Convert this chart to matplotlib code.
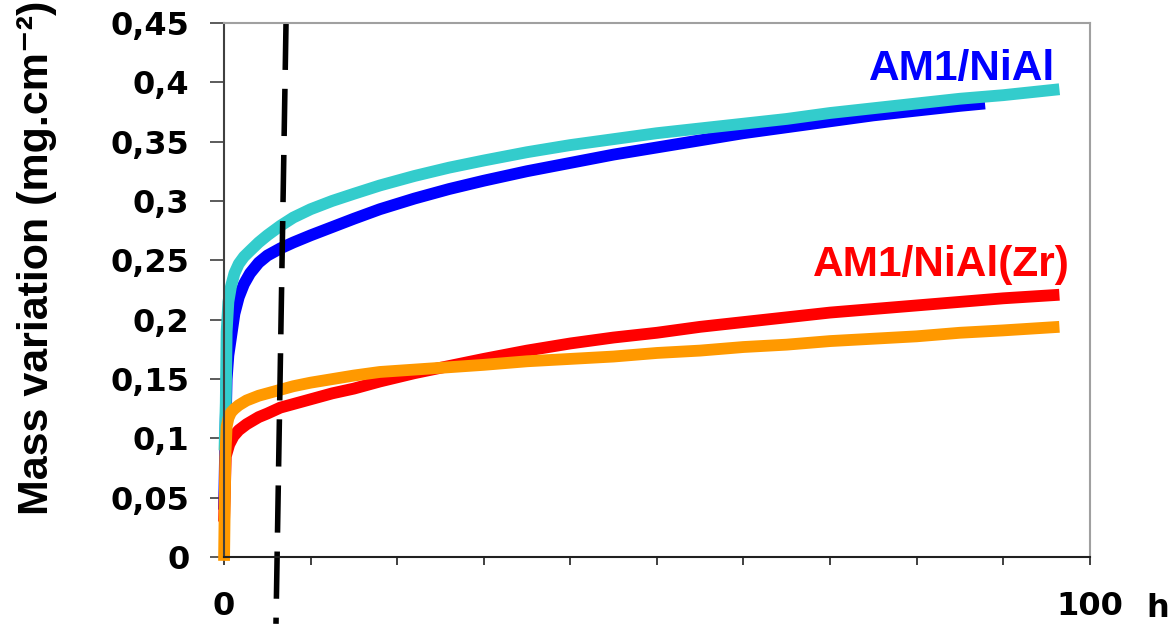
import matplotlib
matplotlib.use("Agg")
import matplotlib.pyplot as plt

# données (temps en h, variation de masse en mg.cm-2)
t_blue = [0.0, 0.15, 0.3, 0.5, 0.8, 1.2, 1.7, 2.3, 3, 4, 5, 6.5, 8, 10, 12.5, 15, 18, 22, 26, 30,
          35, 40, 45, 50, 55, 60, 65, 70, 75, 80, 85, 87.9]
m_blue = [0.04, 0.10, 0.15, 0.17, 0.185, 0.205, 0.219, 0.23, 0.239, 0.248, 0.254, 0.260, 0.265,
          0.271, 0.278, 0.285, 0.293, 0.302, 0.310, 0.317, 0.325, 0.332, 0.339, 0.345, 0.351,
          0.357, 0.362, 0.367, 0.372, 0.376, 0.380, 0.382]

t_cyan = [0.05, 0.2, 0.3, 0.5, 0.8, 1.2, 1.7, 2.3, 3, 4, 5, 6.5, 8, 10, 12.5, 15, 18, 22, 26, 30,
          35, 40, 45, 50, 55, 60, 65, 70, 75, 80, 85, 90, 96.5]
m_cyan = [0.09, 0.13, 0.19, 0.215, 0.228, 0.239, 0.247, 0.253, 0.258, 0.265, 0.271, 0.279, 0.286,
          0.293, 0.300, 0.306, 0.313, 0.321, 0.328, 0.334, 0.341, 0.347, 0.352, 0.357, 0.361,
          0.365, 0.369, 0.374, 0.378, 0.382, 0.386, 0.389, 0.394]

t_red = [0.0, 0.2, 0.6, 1.1, 1.7, 2.6, 4, 5, 6.5, 8, 10, 12.5, 15, 18, 22, 26, 30, 35, 40, 45,
         50, 55, 60, 65, 70, 75, 80, 85, 90, 96.5]
m_red = [0.03, 0.085, 0.095, 0.102, 0.107, 0.112, 0.118, 0.121, 0.126, 0.129, 0.133, 0.138,
         0.142, 0.148, 0.155, 0.161, 0.167, 0.174, 0.180, 0.185, 0.189, 0.194, 0.198, 0.202,
         0.206, 0.209, 0.212, 0.215, 0.218, 0.221]

t_orange = [0.0, 0.15, 0.3, 0.5, 0.8, 1.2, 1.7, 2.6, 4, 5, 6.5, 8, 10, 12.5, 15, 18, 22, 26, 30,
            35, 40, 45, 50, 55, 60, 65, 70, 75, 80, 85, 90, 96.5]
m_orange = [-0.003, 0.085, 0.11, 0.117, 0.122, 0.125, 0.128, 0.132, 0.136, 0.138, 0.141, 0.144,
            0.147, 0.150, 0.153, 0.156, 0.158, 0.160, 0.162, 0.165, 0.167, 0.169, 0.172, 0.174,
            0.177, 0.179, 0.182, 0.184, 0.186, 0.189, 0.191, 0.194]

# ligne pointillée (limite)
t_dash = [7.16, 6.0]
m_dash = [0.45, -0.056]

yticks = [0, 0.05, 0.1, 0.15, 0.2, 0.25, 0.3, 0.35, 0.4, 0.45]
ylabels = ['0', '0,05', '0,1', '0,15', '0,2', '0,25', '0,3', '0,35', '0,4', '0,45']
xticks = list(range(0, 101, 10))
xlabels = ['0'] + [''] * 9 + ['100']

plt.rcParams['font.family'] = ['Liberation Sans', 'DejaVu Sans']

fig = plt.figure(figsize=(11.73, 6.24), dpi=100)
ax = fig.add_axes([0.191, 0.1069, 0.738, 0.8567])

lw = 8.5
kw = dict(lw=lw, solid_capstyle='butt', solid_joinstyle='round', clip_on=False)
ax.plot(t_blue, m_blue, color='#0000FF', **kw)
ax.plot(t_red, m_red, color='#FF0000', **kw)
ax.plot(t_cyan, m_cyan, color='#33CCCC', **kw)
ax.plot(t_orange, m_orange, color='#FF9900', **kw)

ax.plot(t_dash, m_dash, color='black', lw=4, linestyle=(0, (8.5, 3.4)), clip_on=False)

tick_font = dict(family='DejaVu Sans', size=23, weight='bold')
ax.set_xlim(0, 100)
ax.set_ylim(0, 0.45)
ax.set_yticks(yticks)
ax.set_yticklabels(ylabels, fontdict=tick_font)
ax.set_xticks(xticks)
ax.set_xticklabels(xlabels, fontdict=tick_font)
ax.tick_params(axis='y', direction='out', length=10, width=1.2, pad=15, color='#404040')
ax.tick_params(axis='x', direction='out', length=6, width=1.2, pad=18, color='#202020')

ax.spines['left'].set_color('#404040')
ax.spines['bottom'].set_color('#202020')
ax.spines['top'].set_color('#a0a0a0')
ax.spines['right'].set_color('#a0a0a0')
for s in ax.spines.values():
    s.set_linewidth(1.5)

ax.set_ylabel('Mass variation (mg.cm\u207b\u00b2)', fontsize=31, fontweight='bold',
              family=['Liberation Sans', 'DejaVu Sans'])
ax.yaxis.set_label_coords(-0.193, 0.561)

# unité de l'axe x
ax.text(106.6, -0.0505, 'h', fontdict=tick_font, ha='left', va='baseline', clip_on=False)

ann = dict(fontsize=30.5, fontweight='bold', family='Liberation Sans', ha='right', va='baseline')
ax.text(95.96, 0.402, 'AM1/NiAl', color='#0000FF', **ann)
ax.text(97.7, 0.237, 'AM1/NiAl(Zr)', color='#FF0000', **ann)

fig.savefig('out.png', dpi=100)
